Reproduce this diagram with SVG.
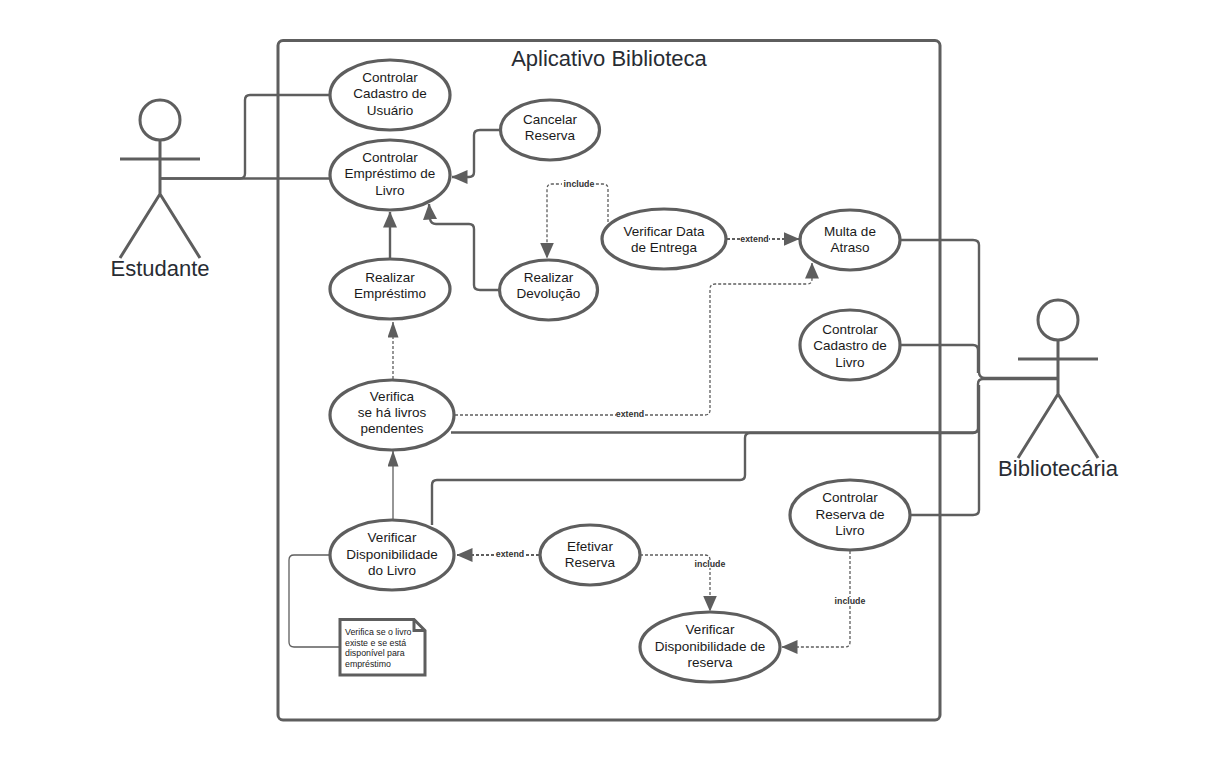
<svg xmlns="http://www.w3.org/2000/svg" width="1218" height="760" viewBox="0 0 1218 760">
<style>
text{font-family:"Liberation Sans",Arial,sans-serif;text-anchor:middle}
.t{font-size:13.500px;fill:#1a1a1a}
.u{fill:#fff;stroke:#5e5e5e;stroke-width:3.200}
.s{fill:none;stroke:#5e5e5e;stroke-width:2.400}
.a{fill:none;stroke:#5e5e5e;stroke-width:2.400;stroke-linejoin:round}
.d{fill:none;stroke:#5e5e5e;stroke-width:1.300;stroke-dasharray:3 2}
.l{font-size:8.800px;font-weight:bold;fill:#333}
.lb{fill:#fff}
.actor{fill:none;stroke:#5e5e5e;stroke-width:3}
.big{font-size:22px;fill:#282c33}
</style>
<defs>
<marker id="arr" viewBox="0 0 16 14" refX="15.500" refY="7" markerWidth="16" markerHeight="14" markerUnits="userSpaceOnUse" orient="auto"><path d="M0 0L16 7L0 14Z" fill="#5e5e5e"/></marker>
<marker id="arr2" viewBox="0 0 16 11" refX="15.500" refY="5.500" markerWidth="16" markerHeight="11" markerUnits="userSpaceOnUse" orient="auto"><path d="M0 0L16 5.500L0 11Z" fill="#5e5e5e"/></marker>
</defs>
<rect id="boundary" x="278" y="40.500" width="662" height="679.500" rx="5" fill="#fff" stroke="#5e5e5e" stroke-width="3"/>
<text x="609" y="65.500" class="big">Aplicativo Biblioteca</text>
<g id="connectors">
<path class="a" d="M161 178.500H240Q245 178.500 245 173.500V100Q245 95 250 95H330"/>
<path class="a" d="M161 178.500H330"/>
<path class="a" d="M500 130H480Q474 130 474 135V172Q474 177 469 177H452" marker-end="url(#arr)"/>
<path class="a" d="M500 290H480Q474 290 474 285V229Q474 224 469 224H436Q431 224 430 219L429 204" marker-end="url(#arr)"/>
<path class="a" d="M390 259V212" marker-end="url(#arr)"/>
<path class="d" d="M608 222V189Q608 184 603 184H552Q547 184 547 189V258" marker-end="url(#arr)"/>
<path class="d" style="stroke-width:2" d="M727 239H799" marker-end="url(#arr)"/>
<path class="d" d="M455 415H705Q710 415 710 410V289Q710 284 715 284H807Q812 284 812 279V263" marker-end="url(#arr)"/>
<path class="d" d="M393 379V322" marker-end="url(#arr2)"/>
<path class="s" style="stroke-width:1.300" d="M393 519V451" marker-end="url(#arr2)"/>
<path class="s" d="M432 525V485Q432 480 437 480H740Q745 480 745 475V438Q745 433 750 433H973Q978 433 978 428V384Q978 379 983 379H1058"/>
<path class="s" d="M451 432.500H973Q978.500 432.500 978.500 427"/>
<path class="s" d="M900 240H973Q979 240 979 245V372Q979 378 985 378H1058"/>
<path class="s" d="M900 345H973Q978 345 978 350V373"/>
<path class="s" d="M910 515H973Q979 515 979 510V385"/>
<path class="d" style="stroke-width:2" d="M539 555H457" marker-end="url(#arr)"/>
<path class="d" d="M640 555H705Q710 555 710 560V611" marker-end="url(#arr)"/>
<path class="d" d="M850 551V642Q850 647 845 647H782" marker-end="url(#arr)"/>
<path class="s" style="stroke-width:1.300" d="M330 555H294Q289 555 289 560V642Q289 647 294 647H340"/>
<rect class="lb" x="562" y="180" width="33" height="8"/><text x="579" y="187" class="l">include</text>
<rect class="lb" x="740" y="235" width="29" height="8"/><text x="754.500" y="242" class="l">extend</text>
<rect class="lb" x="616" y="410" width="29" height="8"/><text x="630" y="417" class="l">extend</text>
<rect class="lb" x="495" y="550" width="29" height="8"/><text x="510" y="557" class="l">extend</text>
<rect class="lb" x="694" y="560" width="32" height="8"/><text x="710" y="567" class="l">include</text>
<rect class="lb" x="834" y="597" width="32" height="8"/><text x="850" y="604" class="l">include</text>
</g>
<g id="estudante">
<circle class="actor" cx="160" cy="120" r="20"/>
<path class="actor" d="M160 140V194M120 159H200M160 194L120 258M160 194L200 258"/>
<text x="160" y="276" class="big">Estudante</text>
</g>
<g id="bibliotecaria">
<circle class="actor" cx="1058" cy="320" r="20"/>
<path class="actor" d="M1058 340V394M1018 359H1098M1058 394L1018 458M1058 394L1098 458"/>
<text x="1058" y="476" class="big">Bibliotecária</text>
</g>
<g id="uc-cadastro-usuario"><ellipse class="u" cx="390" cy="95" rx="60" ry="35"/><text class="t" x="390" y="82">Controlar</text><text class="t" x="390" y="98">Cadastro de</text><text class="t" x="390" y="115">Usuário</text></g>
<g id="uc-emprestimo"><ellipse class="u" cx="390" cy="175" rx="60" ry="35"/><text class="t" x="390" y="162">Controlar</text><text class="t" x="390" y="178">Empréstimo de</text><text class="t" x="390" y="195">Livro</text></g>
<g id="uc-cancelar"><ellipse class="u" cx="550" cy="130" rx="49.500" ry="30"/><text class="t" x="550" y="124">Cancelar</text><text class="t" x="550" y="140">Reserva</text></g>
<g id="uc-realizar-emprestimo"><ellipse class="u" cx="390" cy="289" rx="60" ry="30"/><text class="t" x="390" y="282">Realizar</text><text class="t" x="390" y="298">Empréstimo</text></g>
<g id="uc-devolucao"><ellipse class="u" cx="548.500" cy="290" rx="49" ry="30"/><text class="t" x="548.500" y="282">Realizar</text><text class="t" x="548.500" y="298">Devolução</text></g>
<g id="uc-data"><ellipse class="u" cx="664" cy="239" rx="62" ry="30"/><text class="t" x="664" y="236">Verificar Data</text><text class="t" x="664" y="252">de Entrega</text></g>
<g id="uc-multa"><ellipse class="u" cx="850" cy="240" rx="50" ry="30"/><text class="t" x="850" y="236">Multa de</text><text class="t" x="850" y="252">Atraso</text></g>
<g id="uc-cadastro-livro"><ellipse class="u" cx="850" cy="345" rx="50" ry="35"/><text class="t" x="850" y="334">Controlar</text><text class="t" x="850" y="350">Cadastro de</text><text class="t" x="850" y="367">Livro</text></g>
<g id="uc-pendentes"><ellipse class="u" cx="392" cy="415" rx="62" ry="35"/><text class="t" x="392" y="401">Verifica</text><text class="t" x="392" y="417">se há livros</text><text class="t" x="392" y="433">pendentes</text></g>
<g id="uc-disponibilidade"><ellipse class="u" cx="392" cy="555" rx="62" ry="35"/><text class="t" x="392" y="542">Verificar</text><text class="t" x="392" y="559">Disponibilidade</text><text class="t" x="392" y="575">do Livro</text></g>
<g id="uc-efetivar"><ellipse class="u" cx="590" cy="555" rx="50" ry="30"/><text class="t" x="590" y="551">Efetivar</text><text class="t" x="590" y="567">Reserva</text></g>
<g id="uc-disp-reserva"><ellipse class="u" cx="710" cy="647" rx="70" ry="35"/><text class="t" x="710" y="634">Verificar</text><text class="t" x="710" y="651">Disponibilidade de</text><text class="t" x="710" y="667">reserva</text></g>
<g id="uc-reserva-livro"><ellipse class="u" cx="850" cy="515" rx="60" ry="35"/><text class="t" x="850" y="502">Controlar</text><text class="t" x="850" y="519">Reserva de</text><text class="t" x="850" y="535">Livro</text></g>
<g id="note">
<path d="M340 619.500H414L425 630.500V675H340Z" fill="#fff" stroke="#5e5e5e" stroke-width="3"/>
<path d="M414 619.500V630.500H425" fill="none" stroke="#5e5e5e" stroke-width="3"/>
<g style="font-size:8.800px;fill:#1a1a1a"><text x="345" y="635" style="text-anchor:start">Verifica se o livro</text><text x="345" y="646" style="text-anchor:start">existe e se está</text><text x="345" y="656" style="text-anchor:start">disponível para</text><text x="345" y="667" style="text-anchor:start">empréstimo</text></g>
</g>
</svg>
